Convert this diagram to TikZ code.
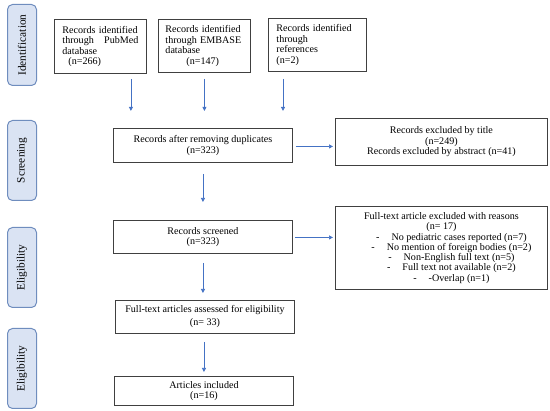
\documentclass[tikz,border=0pt]{standalone}
\usepackage{fontspec}
\setmainfont{Liberation Serif}
\usetikzlibrary{arrows.meta,calc}
\definecolor{sidefill}{HTML}{DAE3F3}
\definecolor{sidedraw}{HTML}{6F8DBE}
\definecolor{arrblue}{HTML}{4472C4}
\definecolor{boxdraw}{HTML}{404040}
\tikzset{
  side/.style={draw=sidedraw,line width=1pt,fill=sidefill,rounded corners=5pt,
    minimum width=29pt,anchor=north west,inner sep=0pt},
  sidetext/.style={rotate=90,font=\fontsize{11.3}{12}\selectfont},
  box/.style={draw=boxdraw,line width=0.9pt,anchor=north west,inner sep=0pt,
    font=\fontsize{10.1}{10.6}\selectfont},
  arr/.style={draw=arrblue,line width=0.7pt,-{Triangle[length=4pt,width=4pt]}}
}
\begin{document}
\begin{tikzpicture}[x=1pt,y=-1pt]
\useasboundingbox (0,0) rectangle (550,411);
% side labels
\node[side,minimum height=81pt] (sid) at (7,4) {};
\node[sidetext] at (sid.center) {Identification};
\node[side,minimum height=80pt] (sscr) at (7,120) {};
\node[sidetext] at (sscr.center) {Screening};
\node[side,minimum height=80pt] (sel1) at (7,227) {};
\node[sidetext] at (sel1.center) {Eligibility};
\node[side,minimum height=80pt] (sel2) at (7,328) {};
\node[sidetext] at (sel2.center) {Eligibility};
% identification boxes
\node[box,minimum width=92pt,minimum height=54pt,text width=76pt,inner xsep=8pt,align=left] (pub) at (54,19)
 {Records identified\\\makebox[76pt][s]{through\hfill PubMed}\\database\\\hspace*{6pt}(n=266)};
\node[box,minimum width=91pt,minimum height=53pt,text width=78pt,inner xsep=7pt,align=left] (emb) at (158,19)
 {Records identified\\through EMBASE\\database\\\hspace*{21pt}(n=147)};
\node[box,minimum width=90pt,minimum height=53pt,text width=82pt,inner xsep=8pt,align=left] (ref) at (268,18)
 {Records identified\\through\\references\\(n=2)};
% screening
\node[box,minimum width=179pt,minimum height=34pt,align=center] (dup) at (113,128)
 {Records after removing duplicates\\(n=323)};
\node[box,minimum width=212pt,minimum height=47pt,align=center] (exc) at (335,118)
 {Records excluded by title\\(n=249)\\Records excluded by abstract (n=41)};
% eligibility
\node[box,minimum width=179pt,minimum height=33pt,align=center] (scr) at (113,220)
 {Records screened\\(n=323)};
\node[box,minimum width=212pt,minimum height=83pt,align=center,font=\fontsize{10.1}{10.3}\selectfont] (ftx) at (335,206)
 {Full-text article excluded with reasons\\(n= 17)\\
 \hspace*{20pt}-\hspace{12pt}No pediatric cases reported (n=7)\\
 \hspace*{20pt}-\hspace{12pt}No mention of foreign bodies (n=2)\\
 \hspace*{20pt}-\hspace{12pt}Non-English full text (n=5)\\
 \hspace*{20pt}-\hspace{12pt}Full text not available (n=2)\\
 \hspace*{20pt}-\hspace{12pt}-Overlap (n=1)};
\node[box,minimum width=179pt,minimum height=33pt,align=center,font=\fontsize{10.1}{13}\selectfont] (ass) at (115,300)
 {Full-text articles assessed for eligibility\\(n= 33)};
\node[box,minimum width=179pt,minimum height=29pt,align=center] (inc) at (114,376)
 {Articles included\\(n=16)};
% arrows
\draw[arr] ([xshift=-16pt]pub.south east) ++(0,5) -- ++(0,32);
\draw[arr] (emb.south) ++(0,6) -- ++(0,32);
\draw[arr] ([xshift=15pt]ref.south west) ++(0,7) -- ++(0,32);
\draw[arr,shorten <=3pt,shorten >=2pt] ([yshift=-1pt]dup.east) -- ([yshift=-1pt]exc.west |- dup.east);
\draw[arr,shorten <=2pt,shorten >=2pt] ([yshift=-0.5pt]scr.east) -- ([yshift=-0.5pt]ftx.west |- scr.east);
\draw[arr,shorten <=11pt,shorten >=18pt] (dup.south) -- (dup.south |- scr.north);
\draw[arr,shorten <=9pt,shorten >=7pt] (scr.south) -- (scr.south |- ass.north);
\draw[arr,shorten <=8pt,shorten >=4pt] ([xshift=-1pt]ass.south) -- ([xshift=-1pt]ass.south |- inc.north);
\end{tikzpicture}
\end{document}
